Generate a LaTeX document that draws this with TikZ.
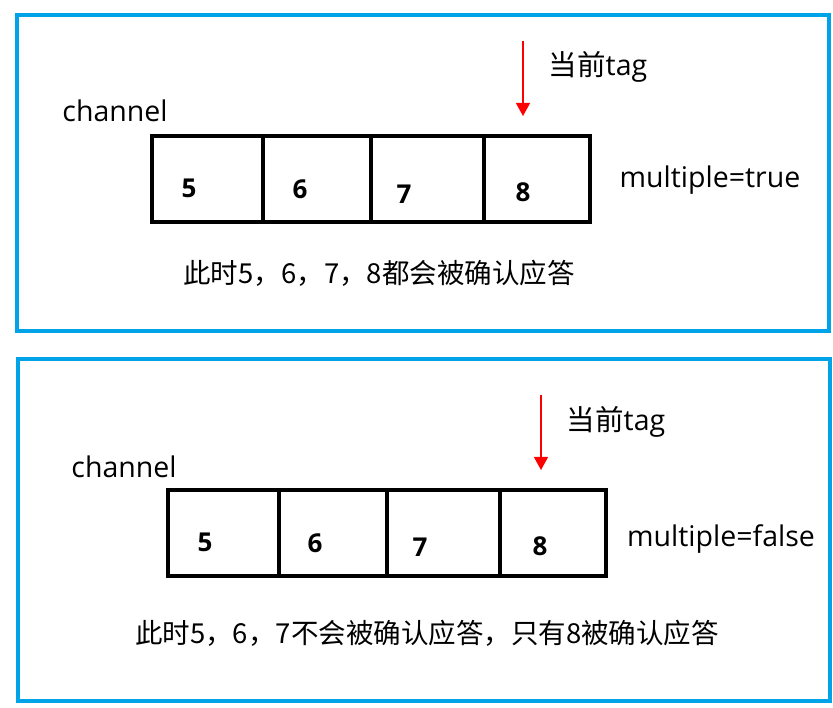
\documentclass[tikz,border=0pt]{standalone}
\usepackage{fontspec}
\setmainfont{Open Sans}
\newfontfamily\cjkfont{Noto Sans CJK SC}
\usetikzlibrary{arrows.meta, positioning}
\definecolor{framebl}{HTML}{00A2E8}
\definecolor{tagred}{HTML}{FF0000}

\begin{document}
\begin{tikzpicture}[x=1pt, y=-1pt, >={Triangle[width=14pt,length=13pt]}]
    \tikzset{
      frame/.style={draw=framebl, line width=4pt},
      cell/.style={draw, line width=4pt, minimum height=86pt, inner sep=0pt, outer sep=0pt},
      num/.style={font=\bfseries\fontsize{26}{26}\selectfont},
      lbl/.style={font=\fontsize{28.5}{28.5}\selectfont},
      note/.style={font=\cjkfont\fontsize{27.5}{28}\selectfont},
      tagarr/.style={->, draw=tagred, line width=1.2pt, shorten >=20pt}
    }
    \useasboundingbox (0,0) rectangle (833,708);

    % multiple=true
    \draw[frame] (17,15.5) rectangle (829,331);
    \node[cell, minimum width=110.5pt, anchor=north west] (t5) at (152,136) {};
    \node[cell, minimum width=108pt, right=0pt of t5] (t6) {};
    \node[cell, minimum width=113.5pt, right=0pt of t6] (t7) {};
    \node[cell, minimum width=105.5pt, right=0pt of t7] (t8) {};
    \node[num] (tn5) at (189,188) {5};
    \node[num] (tn6) at (300,189) {6};
    \node[num] (tn7) at (404,194) {7};
    \node[num] (tn8) at (523,192) {8};
    \node[lbl] (tchan) at (115,111) {channel};
    \node[lbl] (ttag) at (598,67) {{\cjkfont 当前}tag};
    \node[lbl] (tmult) at (710,180) {multiple=true};
    \node[note] (tnote) at (379,273) {此时5，6，7，8都会被确认应答};
    \coordinate (tfrom) at (523,41);
    \draw[tagarr] (tfrom) -- (tfrom |- t8.north);

    % multiple=false
    \draw[frame] (18,359) rectangle (829.5,701);
    \node[cell, minimum width=110.5pt, anchor=north west] (b5) at (168,490) {};
    \node[cell, minimum width=108pt, right=0pt of b5] (b6) {};
    \node[cell, minimum width=113.5pt, right=0pt of b6] (b7) {};
    \node[cell, minimum width=105.5pt, right=0pt of b7] (b8) {};
    \node[num] (bn5) at (205,542) {5};
    \node[num] (bn6) at (315,543) {6};
    \node[num] (bn7) at (420,547) {7};
    \node[num] (bn8) at (540,546) {8};
    \node[lbl] (bchan) at (124,467) {channel};
    \node[lbl] (btag) at (616,422) {{\cjkfont 当前}tag};
    \node[lbl] (bmult) at (721,539) {multiple=false};
    \node[note] (bnote) at (427,633) {此时5，6，7不会被确认应答，只有8被确认应答};
    \coordinate (bfrom) at (541,395);
    \draw[tagarr] (bfrom) -- (bfrom |- b8.north);
\end{tikzpicture}
\end{document}
